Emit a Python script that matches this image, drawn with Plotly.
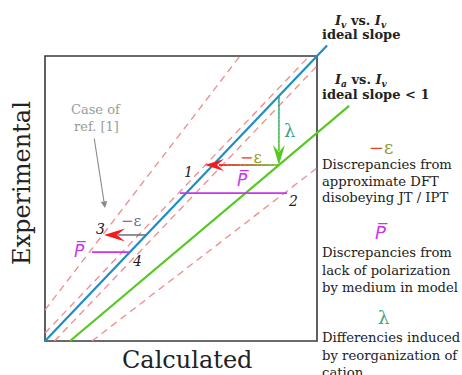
import plotly.graph_objects as go

# ---- schematic values (calculated on x, experimental on y, box = [0,1] x [0,1]) ----
IDEAL_SLOPE, IDEAL_INTERCEPT = 1.0, 0.0          # I_v vs. I_v
IDEAL_X = [0.0, 1.037]
REAL_SLOPE, REAL_X0 = 0.804, 0.092                 # I_a vs. I_v, slope < 1
REAL_X = [0.092, 1.118]
BAND_SLOPES = [1.243, 1.0, 1.0, 0.734]             # dashed uncertainty lines
BAND_INTERCEPTS = [0.109, 0.028, -0.035, -0.127]

# case 1 -> 2 (lambda, -epsilon, P-bar)
CASE1_X = 0.860
EPS1_TIP_X = 0.588
PBAR1_Y = 0.519
PBAR1_X = [0.496, 0.890]
# case 3 -> 4
EPS2_Y = 0.372
EPS2_TIP_X = 0.217
PBAR2_Y = 0.312
PBAR2_X0 = 0.173

# ---- page geometry ----
W, H = 462, 375
BOX_L, BOX_R, BOX_T, BOX_B = 45, 317, 56, 341
SX, SY = BOX_R - BOX_L, BOX_B - BOX_T
XR = [-BOX_L / SX, (W - BOX_L) / SX]
YR = [-(H - BOX_B) / SY, BOX_B / SY]

BLUE = "#1d8ec4"
GREEN = "#55c822"
DASH = "#f08a8a"
MAGENTA = "#cc33ee"
RED = "#f21c1c"
SERIF = "DejaVu Serif, serif"


def to_px(x, y):
    return BOX_L + x * SX, BOX_B - y * SY


def to_data(px, py):
    return (px - BOX_L) / SX, (BOX_B - py) / SY


def ideal(x):
    return IDEAL_SLOPE * x + IDEAL_INTERCEPT


def real(x):
    return REAL_SLOPE * (x - REAL_X0)


def ideal_inv(y):
    return (y - IDEAL_INTERCEPT) / IDEAL_SLOPE


def clip_to_box(m, b):
    pts = []
    for x in (0.0, 1.0):
        y = m * x + b
        if 0 <= y <= 1:
            pts.append((x, y))
    for y in (0.0, 1.0):
        x = (y - b) / m
        if 0 <= x <= 1:
            pts.append((x, y))
    pts = sorted(set(pts))
    return pts[0], pts[-1]


def mix(c0, c1, t):
    a = [int(c0[i:i + 2], 16) for i in (1, 3, 5)]
    b = [int(c1[i:i + 2], 16) for i in (1, 3, 5)]
    return "rgb(%d,%d,%d)" % tuple(round(a[k] + (b[k] - a[k]) * t) for k in range(3))


fig = go.Figure()


def line(xs, ys, color, width, dash=None):
    fig.add_trace(go.Scatter(x=xs, y=ys, mode="lines", hoverinfo="skip",
                             line=dict(color=color, width=width, dash=dash)))


def gradient(p0, p1, c0, c1, width, n=14):
    for i in range(n):
        t0, t1 = i / n, (i + 1) / n
        line([p0[0] + (p1[0] - p0[0]) * t0, p0[0] + (p1[0] - p0[0]) * t1],
             [p0[1] + (p1[1] - p0[1]) * t0, p0[1] + (p1[1] - p0[1]) * t1],
             mix(c0, c1, (t0 + t1) / 2), width)


def head(tip, direction, color, length=18, half_w=6, notch=12):
    tx, ty = to_px(*tip)
    dx, dy = direction
    nx, ny = -dy, dx
    pts = [(tx, ty),
           (tx - length * dx + half_w * nx, ty - length * dy + half_w * ny),
           (tx - notch * dx, ty - notch * dy),
           (tx - length * dx - half_w * nx, ty - length * dy - half_w * ny),
           (tx, ty)]
    xs, ys = zip(*[to_data(*p) for p in pts])
    fig.add_trace(go.Scatter(x=xs, y=ys, mode="lines", fill="toself", fillcolor=color,
                             line=dict(width=0, color=color), hoverinfo="skip"))


# dashed uncertainty lines, limited to the box
for m, b in zip(BAND_SLOPES, BAND_INTERCEPTS):
    (x0, y0), (x1, y1) = clip_to_box(m, b)
    line([x0, x1], [y0, y1], DASH, 1.3, "7px,5px")

# ideal and real correlation lines
line(IDEAL_X, [ideal(x) for x in IDEAL_X], BLUE, 2.2)
line(REAL_X, [real(x) for x in REAL_X], GREEN, 2.2)

# lambda: vertical shift from ideal to real line
lam_top = (CASE1_X, ideal(CASE1_X))
lam_bot = (CASE1_X, real(CASE1_X))
lam_end = (CASE1_X, real(CASE1_X) + 14 / SY)
gradient(lam_top, lam_end, "#2a9ca8", GREEN, 1.6)
head(lam_bot, (0, 1), GREEN, length=20, half_w=6, notch=13)

# -epsilon arrow from point on the real line towards point 1
eps1_start = lam_bot
eps1_tip = (EPS1_TIP_X, lam_bot[1])
gradient(eps1_start, (EPS1_TIP_X + 14 / SX, lam_bot[1]), "#6fc12a", RED, 1.8)
head(eps1_tip, (-1, 0), RED, length=19, half_w=6, notch=12)

# P-bar shift, case 1 -> 2
line(PBAR1_X, [PBAR1_Y, PBAR1_Y], MAGENTA, 1.6)

# case 3 -> 4
eps2_start = (ideal_inv(EPS2_Y), EPS2_Y)
line([eps2_start[0], EPS2_TIP_X + 14 / SX], [EPS2_Y, EPS2_Y], "#6a6a86", 1.5)
head((EPS2_TIP_X, EPS2_Y), (-1, 0), RED, length=21, half_w=6.5, notch=13)
line([PBAR2_X0, ideal_inv(PBAR2_Y)], [PBAR2_Y, PBAR2_Y], MAGENTA, 1.6)

# frame of the plot box
fig.add_shape(type="rect", x0=0, y0=0, x1=1, y1=1, xref="x", yref="y",
              line=dict(color="#3a3a3a", width=1.6), layer="below")


def ann(text, px, py, size, color="#222222", anchor="center", family=SERIF, angle=0):
    x, y = to_data(px, py)
    fig.add_annotation(x=x, y=y, xref="x", yref="y", text=text, showarrow=False,
                       xanchor=anchor, yanchor="middle", textangle=angle,
                       borderpad=0, font=dict(family=family, size=size, color=color))


EPS_TXT = '<span style="color:#e8431c">−</span><span style="color:#8c9c22">ε</span>'
PBAR_TXT = "<i>P\u0305</i>"

# axis titles
ann("Experimental", 22, 183, 24, angle=-90)
ann("Calculated", 187, 360, 24)

# in-plot labels
ann("Case of", 96, 109, 13, color="#9a9a9a")
ann("ref. [1]", 96, 126, 13, color="#9a9a9a")
g0 = to_data(94, 137)
g1 = to_data(105, 208)
fig.add_annotation(x=g1[0], y=g1[1], ax=g0[0], ay=g0[1], xref="x", yref="y",
                   axref="x", ayref="y", text="", showarrow=True, arrowhead=2,
                   arrowsize=1.2, arrowwidth=1.1, arrowcolor="#8a8a8a")

ann("<i>1</i>", 188, 172, 14)
ann("<i>2</i>", 293, 201, 14)
ann("<i>3</i>", 100, 229, 14)
ann("<i>4</i>", 137, 261, 14)
ann(EPS_TXT, 251, 157, 16)
ann('<span style="color:#b0606e">−</span><span style="color:#5e6a8c">ε</span>', 131, 221, 15)
ann(PBAR_TXT, 243, 179, 17, color=MAGENTA, family="DejaVu Sans")
ann(PBAR_TXT, 80, 250, 17, color=MAGENTA, family="DejaVu Sans")
ann("λ", 289, 130, 18, color="#3aa58a")

# legend text on the right
LX = 321
ann("<b><i>I</i><sub><i>v</i></sub> vs. <i>I</i><sub><i>v</i></sub></b>", 333, 21, 13, anchor="left")
ann("<b>ideal slope</b>", LX, 34, 13, anchor="left")
ann("<b><i>I</i><sub><i>a</i></sub> vs. <i>I</i><sub><i>v</i></sub></b>", 333, 80, 13, anchor="left")
ann("<b>ideal slope &lt; 1</b>", LX, 94, 13, anchor="left")

ann(EPS_TXT, 381, 147, 18)
ann("Discrepancies from", LX, 164, 13.2, anchor="left")
ann("approximate DFT", LX, 181, 13.2, anchor="left")
ann("disobeying JT / IPT", LX, 197, 13.2, anchor="left")

ann(PBAR_TXT, 381, 232, 18, color=MAGENTA, family="DejaVu Sans")
ann("Discrepancies from", LX, 252, 13.2, anchor="left")
ann("lack of polarization", LX, 270, 13.2, anchor="left")
ann("by medium in model", LX, 287, 13.2, anchor="left")

ann("λ", 383, 317, 18, color="#3aa58a")
ann("Differencies induced", LX, 337, 13.2, anchor="left")
ann("by reorganization of", LX, 355, 13.2, anchor="left")
ann("cation", LX, 372, 13.2, anchor="left")

fig.update_layout(
    width=W, height=H, margin=dict(l=0, r=0, t=0, b=0),
    paper_bgcolor="white", plot_bgcolor="white", showlegend=False,
    xaxis=dict(range=XR, visible=False, fixedrange=True),
    yaxis=dict(range=YR, visible=False, fixedrange=True),
)

fig.write_html("out.html")
